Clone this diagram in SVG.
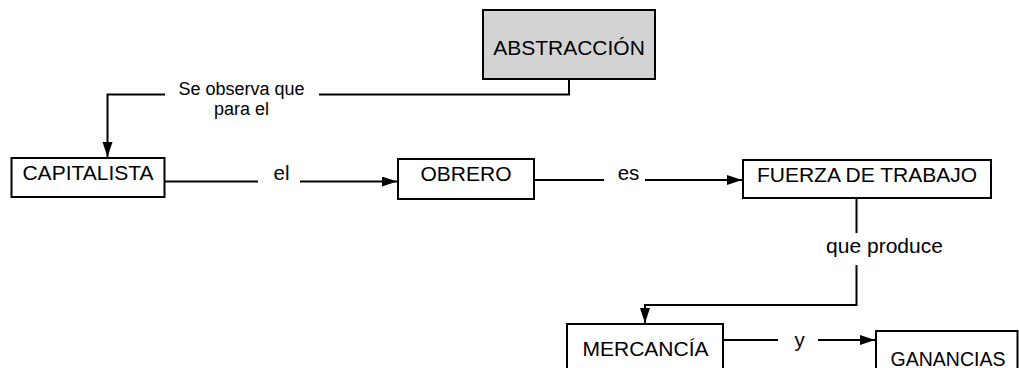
<svg xmlns="http://www.w3.org/2000/svg" width="1019" height="368" viewBox="0 0 1019 368">
<style>
.box{fill:#fff;stroke:#000;stroke-width:2}
.gray{fill:#d3d3d3}
.nt{font-family:"Liberation Sans",Arial,sans-serif;font-size:21px;fill:#000;text-anchor:middle}
.et{font-family:"Liberation Sans",Arial,sans-serif;font-size:20.5px;fill:#000;text-anchor:middle}
.ln{fill:none;stroke:#000;stroke-width:2}
</style>
<defs>
<marker id="ah" markerUnits="userSpaceOnUse" markerWidth="16" markerHeight="12" refX="15" refY="5" orient="auto">
<path d="M0,0 L15,5 L0,10 Z" fill="#000"/>
</marker>
</defs>
<rect width="1019" height="368" fill="#fff"/>
<g id="connectors">
<polyline class="ln" points="569,79 569,94.5 319,94.5"/>
<polyline class="ln" points="165,94.5 107.5,94.5 107.5,157" marker-end="url(#ah)"/>
<text class="et" x="241.5" y="94.5" style="font-size:18px">Se observa que</text>
<text class="et" x="241.5" y="114.5" style="font-size:18px">para el</text>
<line class="ln" x1="165" y1="181.5" x2="258" y2="181.5"/>
<line class="ln" x1="300" y1="181.5" x2="397" y2="181.5" marker-end="url(#ah)"/>
<text class="et" x="281.5" y="180">el</text>
<line class="ln" x1="534" y1="180" x2="604" y2="180"/>
<line class="ln" x1="645" y1="180" x2="742" y2="180" marker-end="url(#ah)"/>
<text class="et" x="628.5" y="179.5">es</text>
<line class="ln" x1="856.5" y1="198" x2="856.5" y2="233"/>
<polyline class="ln" points="856.5,265 856.5,305 645,305 645,323" marker-end="url(#ah)"/>
<text class="et" x="884.5" y="252.5" style="font-size:21px">que produce</text>
<line class="ln" x1="723" y1="340" x2="778" y2="340"/>
<line class="ln" x1="818" y1="340" x2="875" y2="340" marker-end="url(#ah)"/>
<text class="et" x="799.5" y="347">y</text>
</g>
<g id="abstraccion">
<rect class="box gray" x="483" y="10" width="172" height="69"/>
<text class="nt" x="569" y="55">ABSTRACCIÓN</text>
</g>
<g id="capitalista">
<rect class="box" x="11.5" y="158" width="153" height="39"/>
<text class="nt" x="88" y="180">CAPITALISTA</text>
</g>
<g id="obrero">
<rect class="box" x="398" y="159" width="136" height="40"/>
<text class="nt" x="466" y="181">OBRERO</text>
</g>
<g id="fuerza">
<rect class="box" x="743" y="160" width="248" height="38"/>
<text class="nt" x="867" y="181.5">FUERZA DE TRABAJO</text>
</g>
<g id="mercancia">
<rect class="box" x="567" y="324" width="156" height="50"/>
<text class="nt" x="645.5" y="356">MERCANCÍA</text>
</g>
<g id="ganancias">
<rect class="box" x="876" y="331" width="141.5" height="45"/>
<text class="nt" x="948" y="365.5" style="font-size:19.5px">GANANCIAS</text>
</g>
</svg>
